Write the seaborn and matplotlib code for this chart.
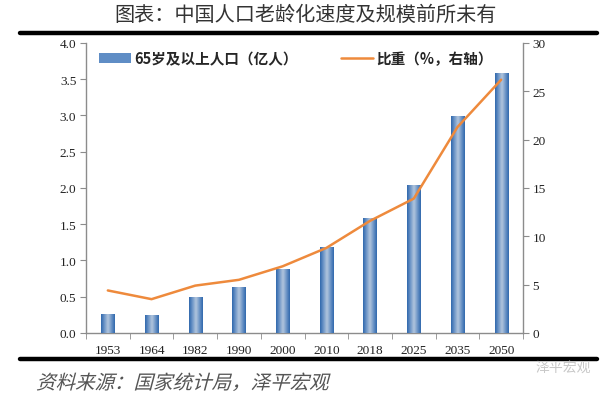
import numpy as np
import pandas as pd
import matplotlib
matplotlib.use("Agg")
import matplotlib.pyplot as plt
import seaborn as sns
from matplotlib.patches import Patch, PathPatch
from matplotlib.lines import Line2D
from matplotlib.textpath import TextPath
from matplotlib.font_manager import FontProperties
from matplotlib.colors import LinearSegmentedColormap
import matplotlib.transforms as mtransforms

# data
years = ["1953", "1964", "1982", "1990", "2000", "2010", "2018", "2025", "2035", "2050"]
pop65 = [0.26, 0.25, 0.49, 0.63, 0.88, 1.19, 1.58, 2.04, 2.99, 3.58]   # 亿人
share = [4.4, 3.5, 4.9, 5.5, 6.9, 8.8, 11.6, 13.9, 21.3, 26.2]        # %

title = "图表：中国人口老龄化速度及规模前所未有"
source = "资料来源：国家统计局，泽平宏观"
bar_label = "65岁及以上人口（亿人）"
line_label = "比重（%，右轴）"

sns.set_style("white")
plt.rcParams["font.family"] = ["Liberation Serif", "Noto Sans CJK SC", "DejaVu Sans"]
cjk = ["Noto Sans CJK SC", "DejaVu Sans"]

df = pd.DataFrame({"year": years, "pop": pop65, "share": share})

fig = plt.figure(figsize=(6.12, 4.1), dpi=100)
ax = fig.add_axes([0.1405, 0.1854, 0.7141, 0.7073])

sns.barplot(data=df, x="year", y="pop", color="#3f74b5", width=0.3, ax=ax, zorder=2)

# cylinder-like gradient on each bar
grad_cmap = LinearSegmentedColormap.from_list(
    "bar", ["#2f67ac", "#6f97c8", "#b3c6dd", "#6f97c8", "#2f67ac"])
grad = np.linspace(0, 1, 64).reshape(1, -1)
for p in ax.patches:
    x0, y0 = p.get_x(), p.get_y()
    w, h = p.get_width(), p.get_height()
    im = ax.imshow(grad, cmap=grad_cmap, extent=[x0, x0 + w, y0, y0 + h],
                   aspect="auto", zorder=3, interpolation="bicubic")
    im.set_clip_path(p)

ax.set_xlim(-0.5, len(years) - 0.5)
ax.set_ylim(0, 4.0)
ax.set_yticks(np.arange(0, 4.01, 0.5))
ax.set_yticklabels([f"{v:.1f}" for v in np.arange(0, 4.01, 0.5)])
ax.set_xlabel("")
ax.set_ylabel("")

ax2 = ax.twinx()
sns.lineplot(x=np.arange(len(years)), y=df["share"], color="#ee8a3c", lw=1.8, ax=ax2)
ax2.set_ylim(0, 30)
ax2.set_yticks(range(0, 31, 5))
ax2.set_ylabel("")
ax2.set_xlim(-0.5, len(years) - 0.5)

spine_c = "#8c8c8c"
for a in (ax, ax2):
    a.spines["top"].set_visible(False)
    for s in ("left", "right", "bottom"):
        a.spines[s].set_color(spine_c)
        a.spines[s].set_linewidth(1.0)
ax.spines["right"].set_visible(False)
ax2.spines["left"].set_visible(False)
ax2.spines["bottom"].set_visible(False)

ax.tick_params(axis="y", direction="out", length=4, color=spine_c, labelsize=9.5,
               labelcolor="#222222", left=True, pad=3)
ax2.tick_params(axis="y", direction="out", length=4, color=spine_c, labelsize=9.5,
                labelcolor="#222222", right=True, pad=3)
ax.set_xticks(np.arange(-0.5, len(years) - 0.4, 1), minor=True)
ax.tick_params(axis="x", which="major", length=0, labelsize=9.5, labelcolor="#222222", pad=8)
ax.tick_params(axis="x", which="minor", direction="out", length=4, color=spine_c, bottom=True)

handles = [Patch(facecolor="#5f8dc5", edgecolor="none"),
           Line2D([], [], color="#ee8a3c", lw=1.8)]
ax.legend(handles, [bar_label, line_label], loc="upper center", ncol=2,
          bbox_to_anchor=(0.48, 1.02), frameon=False, columnspacing=3.0,
          handlelength=2.2, handletextpad=0.2,
          prop=FontProperties(family=cjk, weight="bold", size=10.5))

# title and rules
fig.text(0.5, 0.962, title, ha="center", va="center", fontsize=14.5,
         color="#333333", family=cjk)
fig.add_artist(Line2D([0.033, 0.975], [0.918, 0.918], color="black", lw=3.2))
fig.add_artist(Line2D([0.033, 0.975], [0.122, 0.122], color="black", lw=3.2))

# italic source note via skewed text path
fp = FontProperties(family=cjk, size=13)
tp = TextPath((0, 0), source, prop=fp)
tr = (mtransforms.Affine2D().skew_deg(15, 0).scale(1.5)
      .translate(36, 410 - 390) + mtransforms.Affine2D().scale(fig.dpi / 100.0))
fig.add_artist(PathPatch(tp, transform=tr, facecolor="#555555", edgecolor="none"))

fig.text(0.965, 0.103, "泽平宏观", ha="right", va="center", fontsize=10,
         color="#c8c8c8", family=cjk)

fig.savefig("out.png", dpi=100)
